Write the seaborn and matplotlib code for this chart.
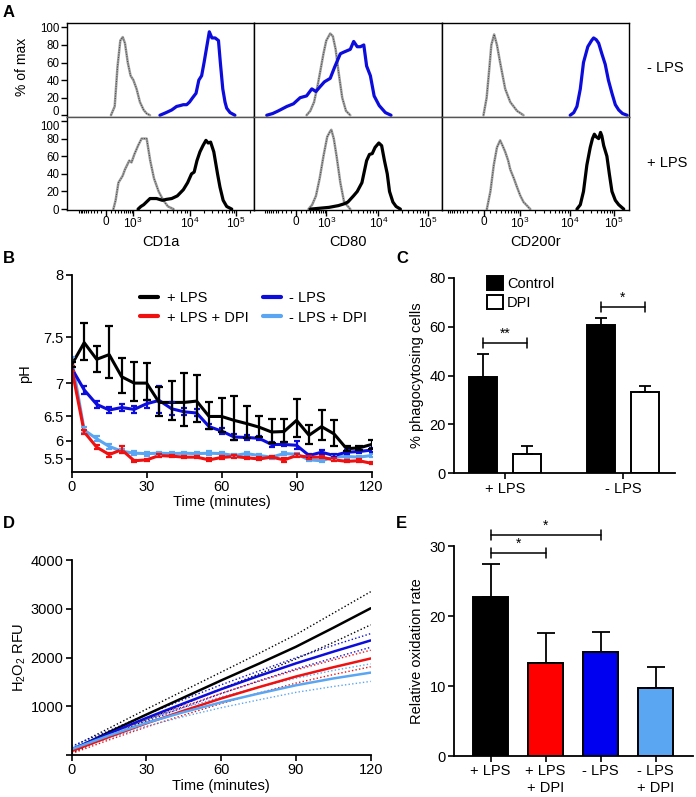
import numpy as np
import pandas as pd
import matplotlib
matplotlib.use("Agg")
import matplotlib.pyplot as plt
import seaborn as sns
from matplotlib.patches import Patch
from matplotlib.lines import Line2D
from matplotlib.ticker import NullLocator

sns.set_style("ticks")
plt.rcParams["font.family"] = ["Liberation Sans", "DejaVu Sans"]
plt.rcParams["mathtext.fontset"] = "custom"
plt.rcParams["mathtext.rm"] = "Liberation Sans"
plt.rcParams["mathtext.it"] = "Liberation Sans:italic"
plt.rcParams["mathtext.bf"] = "Liberation Sans:bold"
for k in ["axes.edgecolor", "xtick.color", "ytick.color", "text.color", "axes.labelcolor"]:
    plt.rcParams[k] = "black"

BLACK = "#000000"
BLUE = "#0c0cdc"
RED = "#f01010"
LIGHT = "#5aa6f2"
GREY = "#a0a0a0"

# ---------------- A: flow histograms (x = display channel 0-100, y = % of max)
markers = ["CD1a", "CD80", "CD200r"]
conditions = ["- LPS", "+ LPS"]
tick_labels_a = ["0", "$10^3$", "$10^4$", "$10^5$"]

cd1a_iso_neg_x = [23.5, 25.5, 27, 28.5, 29.8, 31, 32.5, 34, 35.5, 37.2, 39, 41, 42.6, 44.4]
cd1a_iso_neg_y = [0, 10, 55, 85, 89, 82, 60, 45, 40, 30, 15, 6, 2, 0]
cd1a_neg_x = [49.7, 53, 56, 58.6, 60.5, 62.2, 64, 65.5, 67.2, 69, 70.5, 72, 73.3, 74.5, 76.1, 77.5, 79.2, 81, 82, 83.3, 84.5, 85.4, 87.2, 89.8]
cd1a_neg_y = [0, 3, 6, 10, 11, 12, 12, 15, 20, 25, 40, 45, 60, 75, 95, 88, 88, 85, 60, 30, 15, 8, 3, 0]
cd1a_iso_pos_x = [24.8, 26, 27.5, 29.8, 31, 33.3, 34.5, 36, 38, 39.9, 42.6, 44.5, 46.5, 49, 51.5, 54, 57]
cd1a_iso_pos_y = [0, 10, 30, 38, 45, 55, 53, 62, 72, 80, 80, 55, 35, 20, 10, 3, 0]
cd1a_pos_x = [38, 39.5, 41, 44.4, 47.9, 51, 53, 56, 59, 62.2, 64.5, 66.6, 68, 69.5, 71.1, 72.7, 74.3, 75.5, 76.8, 78.5, 80.5, 81.8, 83.5, 85.4, 88.1]
cd1a_pos_y = [0, 3, 5, 12, 12, 10, 11, 12, 15, 22, 30, 40, 42, 55, 65, 72, 78, 75, 76, 65, 40, 25, 10, 3, 0]

cd80_iso_neg_x = [28, 30, 32, 34, 35.3, 37, 38.5, 40.6, 42, 43.5, 45, 47, 49, 51.3]
cd80_iso_neg_y = [0, 5, 15, 35, 50, 70, 85, 93, 90, 75, 50, 20, 5, 0]
cd80_neg_x = [6.8, 10, 13, 17.5, 21, 24.6, 28, 30.8, 33, 35, 37.5, 40.6, 43, 46, 48, 51.3, 53.1, 55, 56.7, 58.5, 60, 62, 64, 66.7, 70, 73]
cd80_neg_y = [0, 2, 5, 10, 13, 20, 22, 30, 27, 32, 38, 42, 55, 70, 72, 75, 84, 78, 78, 80, 56, 45, 22, 11, 3, 0]
cd80_iso_pos_x = [29, 31, 33, 35, 37, 39, 40.5, 41.2, 42.5, 44, 46, 48, 51.3]
cd80_iso_pos_y = [0, 5, 15, 35, 60, 82, 88, 90, 80, 60, 30, 8, 0]
cd80_pos_x = [30, 35, 40, 45, 48, 50, 53, 55, 57.5, 60, 61.5, 63, 64.5, 66.5, 68, 69.5, 71, 72.2, 74, 75.7, 78]
cd80_pos_y = [0, 1, 2, 4, 6, 8, 15, 20, 30, 55, 62, 63, 70, 75, 72, 55, 40, 20, 8, 3, 0]

cd200_iso_neg_x = [22.3, 24, 25.5, 26.5, 28, 29.5, 31.2, 33.9, 36.6, 40.2, 43.7]
cd200_iso_neg_y = [0, 20, 55, 80, 92, 80, 60, 30, 15, 5, 0]
cd200_neg_x = [68.6, 70.5, 72.2, 74, 75.7, 78, 80, 81.1, 82.5, 83.8, 85.5, 87.3, 89, 90.9, 92.7, 94.5, 96.5, 99]
cd200_neg_y = [0, 3, 10, 30, 60, 78, 85, 88, 86, 82, 70, 58, 40, 25, 12, 6, 2, 0]
cd200_iso_pos_x = [24.1, 26, 27.8, 29.5, 31.2, 32.5, 33.9, 35.5, 36.6, 38.5, 40.2, 42, 43.7, 47.3]
cd200_iso_pos_y = [0, 20, 50, 70, 78, 72, 65, 55, 45, 35, 25, 15, 8, 0]
cd200_pos_x = [72.2, 74, 75.7, 77.5, 79.3, 80.5, 81.5, 82.5, 83.8, 84.8, 85.5, 86.5, 88.2, 89.5, 90.9, 92.7, 94.5, 97.2]
cd200_pos_y = [0, 5, 20, 50, 70, 80, 85, 82, 80, 87, 83, 72, 60, 40, 20, 10, 5, 0]

# ---------------- B: pH over time
time_b = [0, 5, 10, 15, 20, 25, 30, 35, 40, 45, 50, 55, 60, 65, 70, 75, 80, 85, 90, 95, 100, 105, 110, 115, 120]
ph_lps = [7.22, 7.45, 7.28, 7.33, 7.08, 7.0, 7.0, 6.73, 6.73, 6.73, 6.75, 6.5, 6.5, 6.43, 6.37, 6.3, 6.2, 6.21, 6.43, 6.13, 6.31, 6.16, 5.8, 5.82, 5.91]
ph_lps_err = [0.03, 0.18, 0.14, 0.27, 0.21, 0.25, 0.24, 0.22, 0.3, 0.4, 0.35, 0.23, 0.3, 0.4, 0.3, 0.2, 0.25, 0.25, 0.35, 0.22, 0.3, 0.28, 0.06, 0.06, 0.12]
ph_nolps = [7.18, 6.91, 6.7, 6.61, 6.65, 6.62, 6.71, 6.76, 6.63, 6.58, 6.56, 6.31, 6.22, 6.09, 6.08, 6.06, 5.91, 5.91, 5.89, 5.6, 5.7, 5.6, 5.7, 5.72, 5.76]
ph_nolps_err = [0.03, 0.05, 0.05, 0.05, 0.05, 0.06, 0.06, 0.2, 0.1, 0.06, 0.06, 0.05, 0.06, 0.06, 0.05, 0.05, 0.06, 0.05, 0.1, 0.05, 0.05, 0.05, 0.05, 0.05, 0.05]
ph_lps_dpi = [7.18, 6.2, 5.84, 5.63, 5.77, 5.43, 5.46, 5.6, 5.58, 5.55, 5.55, 5.46, 5.54, 5.57, 5.53, 5.49, 5.55, 5.46, 5.6, 5.55, 5.55, 5.46, 5.41, 5.43, 5.34]
ph_lps_dpi_err = [0.03, 0.05, 0.05, 0.06, 0.1, 0.04, 0.04, 0.05, 0.04, 0.04, 0.04, 0.05, 0.05, 0.04, 0.04, 0.05, 0.04, 0.07, 0.05, 0.05, 0.04, 0.05, 0.04, 0.05, 0.03]
ph_nolps_dpi = [7.28, 6.24, 6.05, 5.86, 5.73, 5.67, 5.66, 5.67, 5.66, 5.67, 5.66, 5.67, 5.66, 5.6, 5.66, 5.6, 5.55, 5.66, 5.64, 5.46, 5.43, 5.55, 5.57, 5.55, 5.6]
ph_nolps_dpi_err = [0.03, 0.06, 0.06, 0.06, 0.06, 0.06, 0.06, 0.05, 0.06, 0.05, 0.05, 0.06, 0.05, 0.05, 0.05, 0.05, 0.05, 0.05, 0.05, 0.05, 0.05, 0.05, 0.05, 0.05, 0.05]

# ---------------- C: phagocytosis
groups_c = ["+ LPS", "- LPS"]
control_c = [39.5, 60.6]
control_c_err = [9.2, 2.8]
dpi_c = [8.0, 33.1]
dpi_c_err = [3.0, 2.6]

# ---------------- D: H2O2 RFU
time_d = [0, 15, 30, 45, 60, 75, 90, 105, 120]
rfu_lps = [100, 470, 830, 1180, 1530, 1870, 2220, 2610, 3010]
rfu_lps_sem = [60, 80, 110, 140, 170, 210, 250, 300, 340]
rfu_nolps = [120, 440, 760, 1060, 1350, 1620, 1880, 2120, 2350]
rfu_nolps_sem = [60, 60, 70, 80, 90, 100, 115, 130, 140]
rfu_lps_dpi = [80, 370, 650, 910, 1160, 1390, 1610, 1800, 1980]
rfu_lps_dpi_sem = [50, 60, 75, 90, 105, 120, 135, 150, 170]
rfu_nolps_dpi = [120, 400, 660, 880, 1080, 1260, 1430, 1570, 1690]
rfu_nolps_dpi_sem = [40, 55, 70, 90, 110, 130, 145, 165, 180]

# ---------------- E: oxidation rate
labels_e = ["+ LPS", "+ LPS\n+ DPI", "- LPS", "- LPS\n+ DPI"]
rate_e = [22.7, 13.3, 14.9, 9.7]
rate_e_err = [4.8, 4.3, 2.8, 3.0]

W, H = 696, 797
fig = plt.figure(figsize=(W / 100, H / 100), dpi=100)


def box(x0, y0, x1, y1):
    return [x0 / W, 1 - y1 / H, (x1 - x0) / W, (y1 - y0) / H]


def ftext(x, y, s, **kw):
    fig.text(x / W, 1 - y / H, s, **kw)


# ---------------- panel A
col_edges = [67, 254, 441.7, 629]
row_edges = [23, 117, 210]
tick_pos_a = [[20.9, 35.3, 65.8, 90.4], [22.3, 38.5, 66.3, 92.5], [22.6, 41.9, 68.6, 92.1]]
hist = [
    [[(cd1a_iso_neg_x, cd1a_iso_neg_y), (cd1a_neg_x, cd1a_neg_y)],
     [(cd1a_iso_pos_x, cd1a_iso_pos_y), (cd1a_pos_x, cd1a_pos_y)]],
    [[(cd80_iso_neg_x, cd80_iso_neg_y), (cd80_neg_x, cd80_neg_y)],
     [(cd80_iso_pos_x, cd80_iso_pos_y), (cd80_pos_x, cd80_pos_y)]],
    [[(cd200_iso_neg_x, cd200_iso_neg_y), (cd200_neg_x, cd200_neg_y)],
     [(cd200_iso_pos_x, cd200_iso_pos_y), (cd200_pos_x, cd200_pos_y)]],
]


def minor_positions(p):
    p0, p3, p4, p5 = p
    out = []
    c = 300.0
    for v in range(100, 1000, 100):
        d = (p3 - p0) * np.arcsinh(v / c) / np.arcsinh(1000 / c)
        out += [p0 + d, p0 - d]
    out.append(p0 - (p3 - p0))
    for a, b in [(p3, p4), (p4, p5)]:
        for m in range(2, 10):
            out.append(a + (b - a) * np.log10(m))
    for m in range(2, 4):
        out.append(p5 + (p5 - p4) * np.log10(m))
    return [x for x in out if 1 < x < 99]


for c in range(3):
    for r in range(2):
        ax = fig.add_axes(box(col_edges[c], row_edges[r], col_edges[c + 1], row_edges[r + 1]))
        (ix, iy), (sx, sy) = hist[c][r]
        ax.plot(ix, iy, color=GREY, lw=1.8, solid_joinstyle="round")
        ax.plot(ix, iy, color="#404040", lw=0.7, ls=(0, (1, 1.5)))
        sns.lineplot(x=sx, y=sy, sort=False, color=BLUE if r == 0 else BLACK, lw=2.3, ax=ax)
        ax.set_xlim(0, 100)
        ax.set_ylim((-2, 105) if r == 0 else (-1, 104.5))
        for s in ax.spines.values():
            s.set_linewidth(1.0)
        if r == 0:
            ax.spines["bottom"].set_color("#555555")
        else:
            ax.spines["top"].set_color("#555555")
        if c == 0:
            ax.set_yticks([0, 20, 40, 60, 80, 100])
            ax.tick_params(axis="y", labelsize=8.3, length=4, width=1, pad=1.5)
            if r == 0:
                ax.get_yticklabels()[0].set_verticalalignment("baseline")
            else:
                ax.get_yticklabels()[-1].set_verticalalignment("top")
        else:
            ax.set_yticks([])
        if r == 1:
            ax.set_xticks(tick_pos_a[c])
            ax.set_xticklabels(tick_labels_a)
            ax.set_xticks(minor_positions(tick_pos_a[c]), minor=True)
            ax.tick_params(axis="x", which="major", labelsize=8.5, length=4, width=1, pad=0.5)
            ax.tick_params(axis="x", which="minor", length=2.5, width=0.8, bottom=True)
        else:
            ax.set_xticks([])
        ax.set_xlabel("")
        ax.set_ylabel("")

ftext(22, 67, "% of max", rotation=90, fontsize=10, ha="center", va="center")
for c, m in enumerate(markers):
    ftext((col_edges[c] + col_edges[c + 1]) / 2, 242, m, fontsize=10.5, ha="center", va="center")
ftext(647, 68, conditions[0], fontsize=10.5, ha="left", va="center")
ftext(647, 163, conditions[1], fontsize=10.5, ha="left", va="center")


def style_axis(ax):
    sns.despine(ax=ax)
    for s in ["left", "bottom"]:
        ax.spines[s].set_linewidth(1.3)
    ax.tick_params(labelsize=10.5, length=4, width=1.2, pad=2)


# ---------------- panel B
axb = fig.add_axes(box(71.7, 275, 371.5, 471.7))
K = 0.627
axb.set_yscale("function", functions=(lambda y: np.exp(K * y),
                                      lambda v: np.log(np.clip(v, 1e-9, None)) / K))
series_b = [
    ("- LPS + DPI", ph_nolps_dpi, ph_nolps_dpi_err, LIGHT),
    ("- LPS", ph_nolps, ph_nolps_err, BLUE),
    ("+ LPS + DPI", ph_lps_dpi, ph_lps_dpi_err, RED),
    ("+ LPS", ph_lps, ph_lps_err, BLACK),
]
df_b = pd.concat([pd.DataFrame({"time": time_b, "pH": v, "cond": n}) for n, v, e, col in series_b])
sns.lineplot(data=df_b, x="time", y="pH", hue="cond", hue_order=[s[0] for s in series_b],
             palette={s[0]: s[3] for s in series_b}, lw=2.2, errorbar=None, legend=False, ax=axb)
for n, v, e, col in series_b:
    axb.errorbar(time_b, v, yerr=e, fmt="none", ecolor=col, elinewidth=1.6,
                 capsize=2.6 if col == BLACK else 2.0, capthick=1.6)
axb.set_xlim(0, 120)
axb.set_ylim(5.0, 8.0)
axb.set_xticks([0, 30, 60, 90, 120])
axb.set_yticks([5.5, 6, 6.5, 7, 7.5, 8])
axb.set_yticklabels(["5.5", "6", "6.5", "7", "7.5", "8"])
axb.yaxis.set_minor_locator(NullLocator())
axb.set_xlabel("Time (minutes)", fontsize=10.5, labelpad=1)
axb.set_ylabel("pH", fontsize=10.5, labelpad=8)
style_axis(axb)
handles_b = [Line2D([], [], color=BLACK, lw=3), Line2D([], [], color=RED, lw=3),
             Line2D([], [], color=BLUE, lw=3), Line2D([], [], color=LIGHT, lw=3)]
axb.legend(handles_b, ["+ LPS", "+ LPS + DPI", "- LPS", "- LPS + DPI"], ncol=2, frameon=False,
           loc="upper left", bbox_to_anchor=(0.21, 0.95), fontsize=10.5, handlelength=1.2,
           handletextpad=0.6, columnspacing=1.0, labelspacing=0.4, borderaxespad=0)

# ---------------- panel C
axc = fig.add_axes(box(454.3, 277.7, 675, 473.3))
df_c = pd.DataFrame({"group": groups_c * 2, "treat": ["Control"] * 2 + ["DPI"] * 2,
                     "value": control_c + dpi_c, "err": control_c_err + dpi_c_err})
sns.barplot(data=df_c, x="group", y="value", hue="treat", palette={"Control": BLACK, "DPI": "white"},
            edgecolor=BLACK, linewidth=1.4, width=0.744, gap=0.36, errorbar=None, legend=False,
            saturation=1, ax=axc)
for p in axc.patches:
    h = p.get_height()
    xc = p.get_x() + p.get_width() / 2
    e = df_c.loc[(df_c["value"] - h).abs().idxmin(), "err"]
    axc.errorbar([xc], [h], yerr=[[0], [e]], fmt="none", ecolor=BLACK, elinewidth=1.3,
                 capsize=4.5, capthick=1.3)
axc.set_xlim(-0.434, 1.444)
axc.set_ylim(0, 80)
axc.set_yticks([0, 20, 40, 60, 80])
axc.set_xlabel("")
axc.set_ylabel("% phagocytosing cells", fontsize=10.5, labelpad=4)
style_axis(axc)
bar_x_c = sorted(p.get_x() + p.get_width() / 2 for p in axc.patches)


def bracket(ax, x1, x2, y, tick, label):
    ax.plot([x1, x2], [y, y], color=BLACK, lw=1.1, clip_on=False)
    ax.plot([x1, x1], [y - tick, y + tick], color=BLACK, lw=1.1, clip_on=False)
    ax.plot([x2, x2], [y - tick, y + tick], color=BLACK, lw=1.1, clip_on=False)
    ax.text((x1 + x2) / 2, y + tick * 0.4, label, ha="center", va="bottom", fontsize=10)


bracket(axc, bar_x_c[0], bar_x_c[1], 53.3, 2.0, "**")
bracket(axc, bar_x_c[2], bar_x_c[3], 68.1, 2.0, "*")
handles_c = [Patch(facecolor=BLACK, edgecolor=BLACK, lw=1.4), Patch(facecolor="white", edgecolor=BLACK, lw=1.4)]
axc.legend(handles_c, ["Control", "DPI"], frameon=False, loc="upper left", bbox_to_anchor=(0.12, 1.04),
           fontsize=10.5, handlelength=1.1, handleheight=1.1, handletextpad=0.3, labelspacing=0.3,
           borderaxespad=0)

# ---------------- panel D
axd = fig.add_axes(box(71.7, 560, 370.7, 755))
series_d = [
    ("+ LPS", rfu_lps, rfu_lps_sem, BLACK),
    ("- LPS", rfu_nolps, rfu_nolps_sem, BLUE),
    ("+ LPS + DPI", rfu_lps_dpi, rfu_lps_dpi_sem, RED),
    ("- LPS + DPI", rfu_nolps_dpi, rfu_nolps_dpi_sem, LIGHT),
]
df_d = pd.concat([pd.DataFrame({"time": time_d, "rfu": v, "cond": n}) for n, v, s, col in series_d])
for n, v, s, col in series_d:
    v = np.array(v)
    s = np.array(s)
    axd.plot(time_d, v + s, color=col, lw=1.0, ls=(0, (1, 1.6)))
    axd.plot(time_d, v - s, color=col, lw=1.0, ls=(0, (1, 1.6)))
sns.lineplot(data=df_d, x="time", y="rfu", hue="cond", hue_order=[s[0] for s in series_d],
             palette={s[0]: s[3] for s in series_d}, lw=1.8, errorbar=None, legend=False, ax=axd)
axd.set_xlim(0, 120)
axd.set_ylim(0, 4000)
axd.set_xticks([0, 30, 60, 90, 120])
axd.set_yticks([0, 1000, 2000, 3000, 4000])
axd.set_yticklabels(["", "1000", "2000", "3000", "4000"])
axd.set_xlabel("Time (minutes)", fontsize=10.5, labelpad=1)
axd.set_ylabel("H$_2$O$_2$ RFU", fontsize=10.5, labelpad=2)
style_axis(axd)

# ---------------- panel E
axe = fig.add_axes(box(454.3, 546, 693, 756))
df_e = pd.DataFrame({"cond": labels_e, "rate": rate_e})
sns.barplot(data=df_e, x="cond", y="rate", hue="cond", palette=[BLACK, "#ff0000", "#0000f0", LIGHT],
            edgecolor=BLACK, linewidth=1.4, width=0.65, errorbar=None, legend=False,
            saturation=1, ax=axe)
for i, (v, e) in enumerate(zip(rate_e, rate_e_err)):
    axe.errorbar([i], [v], yerr=[[0], [e]], fmt="none", ecolor=BLACK, elinewidth=1.3,
                 capsize=6.5, capthick=1.3)
axe.set_xlim(-0.658, 3.68)
axe.set_ylim(0, 30)
axe.set_yticks([0, 10, 20, 30])
axe.set_xlabel("")
axe.set_ylabel("Relative oxidation rate", fontsize=10.5, labelpad=4)
style_axis(axe)
bracket(axe, 0, 1, 29.0, 0.75, "*")
bracket(axe, 0, 2, 31.6, 0.75, "*")

# panel letters
for x, y, s in [(3, 5, "A"), (3, 251, "B"), (396, 251, "C"), (3, 516, "D"), (396, 516, "E")]:
    ftext(x, y, s, fontsize=12, fontweight="bold", ha="left", va="top")

fig.savefig("out.png", dpi=100)
